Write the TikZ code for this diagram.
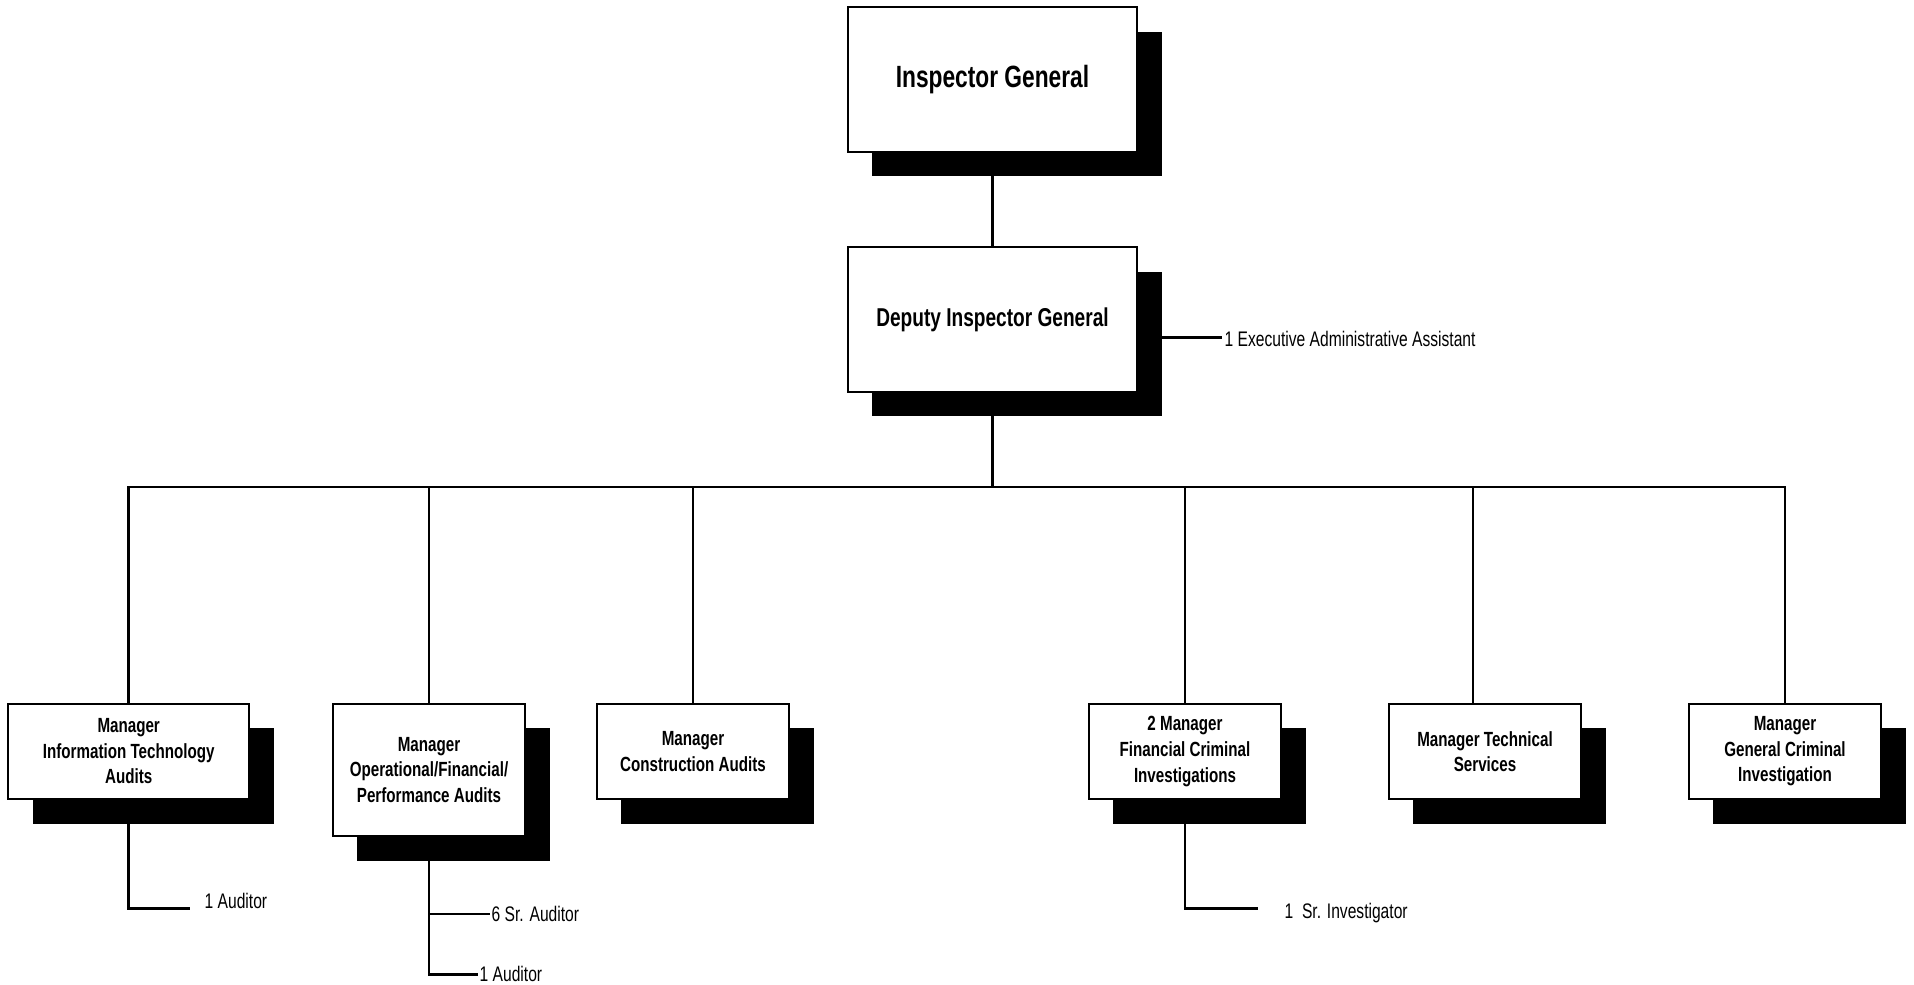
\documentclass[tikz,border=0pt]{standalone}
\usepackage{fontspec}
\setmainfont{Liberation Sans}[FakeStretch=0.74]
\usetikzlibrary{shadows,backgrounds}
\begin{document}
\begin{tikzpicture}[x=0.01cm,y=-0.01cm,
  box/.style={draw=black, line width=0.55pt, fill=white, align=center, inner sep=0pt,
    drop shadow={shadow xshift=0.245cm, shadow yshift=-0.245cm, fill=black, opacity=1}},
  topbox/.style={box, minimum width=2.89cm, minimum height=1.445cm},
  unit/.style={box, minimum width=1.92cm, minimum height=0.95cm,
    font=\bfseries\fontsize{5.83}{7.26}\selectfont},
  staff/.style={anchor=west, inner sep=0pt, font=\fontsize{6.0}{7.2}\selectfont},
  link/.style={draw=black, line width=0.8pt}]
\useasboundingbox (0,0) rectangle (1914,984);

% top of the organisation
\node[topbox, font=\bfseries\fontsize{8.74}{10.5}\selectfont] (ig) at (992.5,79.5) {Inspector General};
\node[topbox, font=\bfseries\fontsize{7.34}{9}\selectfont] (dig) at (992.5,319.5) {Deputy Inspector General};
\node[staff] (exec) at (1224,339) {1 Executive Administrative Assistant};
\coordinate (xe) at (1222,337.7);

% managers
\node[unit, minimum width=2.41cm] (m1) at (128.7,751.5) {Manager\\Information Technology\\Audits};
\node[unit, minimum height=1.32cm] (m2) at (429,770) {Manager\\Operational/Financial/\\Performance Audits};
\node[unit] (m3) at (693,751.5) {Manager\\Construction Audits};
\node[unit] (m4) at (1185,751.5) {2 Manager\\Financial Criminal\\Investigations};
\node[unit] (m5) at (1485,751.5) {Manager Technical\\Services};
\node[unit] (m6) at (1785,751.5) {Manager\\General Criminal\\Investigation};

% staff under the managers
\node[staff] (s1) at (204,901) {1 Auditor};
\coordinate (e1) at (190,908.3);
\node[staff] (s2) at (491,913.5) {6 Sr. Auditor};
\coordinate (e2) at (490,914);
\node[staff] (s3) at (479,973.5) {1 Auditor};
\coordinate (e3) at (478,974.3);
\node[staff] (s4) at (1284,913) {1\ \ Sr. Investigator};
\coordinate (e4) at (1258,908.3);

% reporting lines
\coordinate (bar) at (992.5,487);
\coordinate (b5) at (1473,487);
\begin{scope}[on background layer]
  \draw[link] (ig.south) -- (dig.north);
  \draw[link] (dig.south) -- (bar);
  \draw[link] (dig.east |- xe) -- (xe);
  \draw[link] (m1.north) -- (m1.north |- bar) -- (m6.north |- bar) -- (m6.north);
  \draw[link] (m2.north |- bar) -- (m2.north);
  \draw[link] (m3.north |- bar) -- (m3.north);
  \draw[link] (m4.north |- bar) -- (m4.north);
  \draw[link] (b5) -- (b5 |- m5.north);
  \draw[link] (m1.south) |- (e1);
  \draw[link] (m2.south) |- (e3);
  \draw[link] (m2.south |- e2) -- (e2);
  \draw[link] (m4.south) |- (e4);
\end{scope}
\end{tikzpicture}
\end{document}
